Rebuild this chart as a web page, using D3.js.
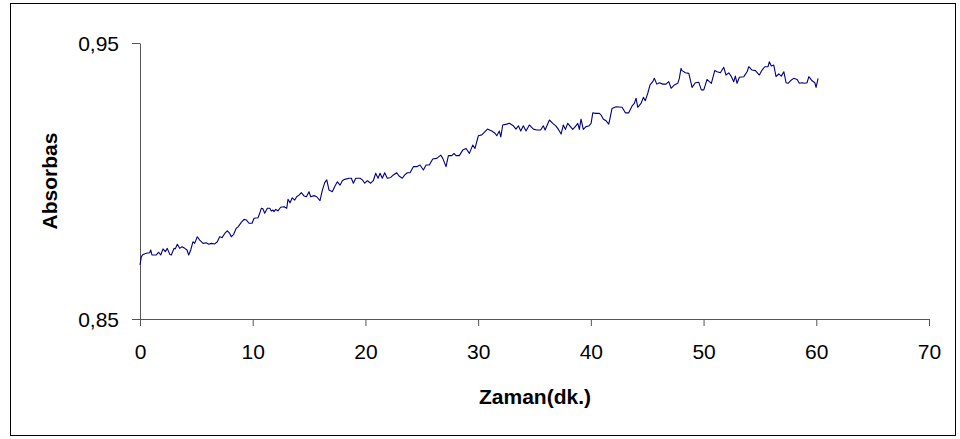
<!DOCTYPE html>
<html>
<head>
<meta charset="utf-8">
<script src="https://cdn.jsdelivr.net/npm/d3@7"></script>
<style>
  html, body { margin: 0; padding: 0; background: #fff; }
  svg { display: block; }
  text { font-family: "Liberation Sans", Arial, sans-serif; fill: #000; }
</style>
</head>
<body>
<svg id="chart" width="960" height="439"></svg>
<script>
// Absorbance readings over time (minutes)
const times = [
  0,0.12,0.27,0.56,0.86,0.95,1.06,1.45,1.66,1.84,2.04,2.24,2.42,2.64,2.78,3.02,3.13,3.31,3.52,3.73,
  3.97,4.17,4.32,4.50,4.70,4.85,5.08,5.30,5.59,5.88,6.10,6.33,6.63,6.86,7.07,7.28,7.52,7.75,7.96,8.10,
  8.31,8.54,8.70,8.99,9.23,9.43,9.67,9.94,10.12,10.47,10.62,10.76,10.91,11.06,11.30,11.51,11.65,11.80,
  11.89,12.04,12.24,12.48,12.78,13.02,13.13,13.31,13.51,13.73,13.90,14.11,14.31,14.55,14.76,14.99,15.15,15.44,15.68,15.97,
  16.18,16.39,16.57,16.77,17.06,17.30,17.51,17.75,17.95,18.16,18.54,18.75,18.93,19.14,19.52,19.73,19.94,20.17,20.47,20.70,
  20.91,21.12,21.30,21.50,21.71,21.94,22.25,22.48,22.78,22.98,23.27,23.49,23.72,23.96,
  24.25,24.55,24.84,25.14,25.38,25.67,25.97,26.33,26.68,26.86,27.15,27.36,27.66,27.86,28.04,28.33,28.63,28.93,29.22,29.52,
  29.72,30.02,30.32,30.61,30.82,31.21,31.50,31.65,31.88,32.01,32.18,32.54,32.77,33.12,33.36,33.57,33.78,34.01,34.25,34.54,
  34.90,35.20,35.55,35.78,35.94,
  36.32,36.62,36.91,37.15,37.36,37.56,37.74,37.95,38.15,38.39,38.62,38.84,38.98,39.13,39.33,39.57,39.81,40.02,40.17,40.40,
  40.75,40.91,41.11,41.35,41.59,41.88,42.24,42.77,43.06,43.36,43.66,43.86,44.01,44.16,44.45,44.66,44.83,45.05,45.25,45.49,
  45.63,45.85,46.08,46.38,46.67,46.91,47.12,47.41,47.71,47.85,48.00,
  48.09,48.39,48.69,48.98,49.27,49.57,49.80,50.02,50.31,50.51,50.69,50.99,51.20,51.49,51.79,51.99,52.24,52.47,52.68,52.82,
  52.97,53.18,53.57,53.86,54.01,54.30,54.60,54.95,55.19,55.43,55.72,55.83,56.01,56.23,56.43,56.67,56.90,57.12,57.32,57.50,
  57.70,58.00,58.30,58.50,58.74,58.98,59.18,59.34,59.63,59.87,59.98,60.16
];
const absorbance = [
  0.8696,0.8726,0.8734,0.8738,0.8740,0.8750,0.8732,0.8732,0.8742,0.8732,0.8754,0.8744,0.8756,0.8734,0.8732,0.8756,0.8754,0.8771,0.8756,0.8762,
  0.8756,0.8750,0.8732,0.8750,0.8780,0.8774,0.8798,0.8786,0.8774,0.8776,0.8771,0.8774,0.8772,0.8780,0.8798,0.8795,0.8810,0.8819,0.8810,0.8798,
  0.8807,0.8829,0.8834,0.8850,0.8861,0.8859,0.8847,0.8847,0.8865,0.8867,0.8883,0.8901,0.8899,0.8883,0.8901,0.8901,0.8891,0.8895,
  0.8889,0.8897,0.8892,0.8905,0.8907,0.8901,0.8934,0.8921,0.8939,0.8931,0.8943,0.8949,0.8958,0.8946,0.8943,0.8961,0.8943,0.8947,0.8943,0.8929,
  0.8967,0.8994,0.9004,0.8967,0.8961,0.8982,0.8997,0.8985,0.9001,0.9006,0.9010,0.9010,0.8992,0.9010,0.9010,0.9004,0.8992,0.9001,0.8992,0.9001,
  0.9028,0.9010,0.9028,0.9010,0.9030,0.9010,0.9013,0.9022,0.9030,0.9018,0.9010,0.9022,0.9030,0.9030,
  0.9052,0.9052,0.9058,0.9040,0.9058,0.9058,0.9080,0.9082,0.9094,0.9082,0.9052,0.9092,0.9092,0.9100,0.9092,0.9092,0.9112,0.9118,0.9100,0.9130,
  0.9118,0.9164,0.9167,0.9179,0.9188,0.9181,0.9173,0.9164,0.9181,0.9160,0.9203,0.9206,0.9209,0.9200,0.9188,0.9200,0.9181,0.9200,0.9181,0.9203,
  0.9188,0.9185,0.9185,0.9200,0.9185,
  0.9221,0.9209,0.9199,0.9185,0.9170,0.9203,0.9187,0.9209,0.9199,0.9187,0.9197,0.9209,0.9187,0.9224,0.9187,0.9197,0.9199,0.9209,0.9247,0.9245,
  0.9245,0.9239,0.9224,0.9218,0.9206,0.9263,0.9269,0.9267,0.9247,0.9247,0.9272,0.9281,0.9300,0.9267,0.9281,0.9303,0.9291,0.9318,0.9348,0.9360,
  0.9372,0.9351,0.9356,0.9351,0.9351,0.9360,0.9336,0.9348,0.9354,0.9372,0.9408,
  0.9400,0.9392,0.9390,0.9339,0.9356,0.9358,0.9330,0.9330,0.9368,0.9360,0.9354,0.9400,0.9396,0.9392,0.9412,0.9384,0.9392,0.9378,0.9360,0.9380,
  0.9354,0.9376,0.9378,0.9396,0.9414,0.9402,0.9400,0.9384,0.9402,0.9414,0.9414,0.9432,0.9417,0.9420,0.9378,0.9388,0.9380,0.9396,0.9356,0.9354,
  0.9363,0.9372,0.9368,0.9354,0.9356,0.9354,0.9356,0.9378,0.9363,0.9356,0.9339,0.9372
];
const xTicks = [0, 10, 20, 30, 40, 50, 60, 70];
const yTicks = [0.85, 0.95];
const xTitle = "Zaman(dk.)";
const yTitle = "Absorbas";

const svg = d3.select("#chart");
const W = 960, H = 439;
const plot = { left: 140, right: 929, top: 43, bottom: 319 };

// outer frame
svg.append("rect")
  .attr("x", 10.5).attr("y", 3.5)
  .attr("width", 945).attr("height", 432)
  .attr("fill", "#fff").attr("stroke", "#000").attr("stroke-width", 1);

const x = d3.scaleLinear().domain([0, 70]).range([plot.left, plot.right]);
const y = d3.scaleLinear().domain([0.85, 0.95]).range([plot.bottom, plot.top]);

const fmt = d => d3.format(".2f")(d).replace(".", ",");

const axisColor = "#555";

// x axis
const gx = svg.append("g")
  .attr("transform", `translate(0,${plot.bottom})`)
  .call(d3.axisBottom(x).tickValues(xTicks).tickSizeOuter(0).tickSizeInner(7).tickPadding(18).tickFormat(d3.format("d")));

// y axis
const gy = svg.append("g")
  .attr("transform", `translate(${plot.left},0)`)
  .call(d3.axisLeft(y).tickValues(yTicks).tickSizeOuter(0).tickSizeInner(8).tickPadding(13).tickFormat(fmt));

[gx, gy].forEach(g => {
  g.select(".domain").attr("stroke", axisColor).attr("stroke-width", 1);
  g.selectAll(".tick line").attr("stroke", axisColor).attr("stroke-width", 1);
  g.selectAll(".tick text")
    .attr("font-family", "'Liberation Sans', Arial, sans-serif")
    .attr("font-size", 21)
    .attr("fill", "#000");
});
gx.selectAll(".tick text").attr("dy", "0.71em");
gy.selectAll(".tick text").attr("dy", "0.34em");

// series line
const data = times.map((t, i) => ({ t, v: absorbance[i] }));
svg.append("path")
  .datum(data)
  .attr("fill", "none")
  .attr("stroke", "#000080")
  .attr("stroke-width", 1.1)
  .attr("stroke-linejoin", "round")
  .attr("d", d3.line().x(d => x(d.t)).y(d => y(d.v)));

// axis titles
svg.append("text")
  .attr("x", 535).attr("y", 404)
  .attr("text-anchor", "middle")
  .attr("font-size", 21).attr("font-weight", "bold")
  .text(xTitle);

svg.append("text")
  .attr("transform", "translate(57,181) rotate(-90)")
  .attr("text-anchor", "middle")
  .attr("font-size", 21).attr("font-weight", "bold")
  .text(yTitle);
</script>
</body>
</html>
